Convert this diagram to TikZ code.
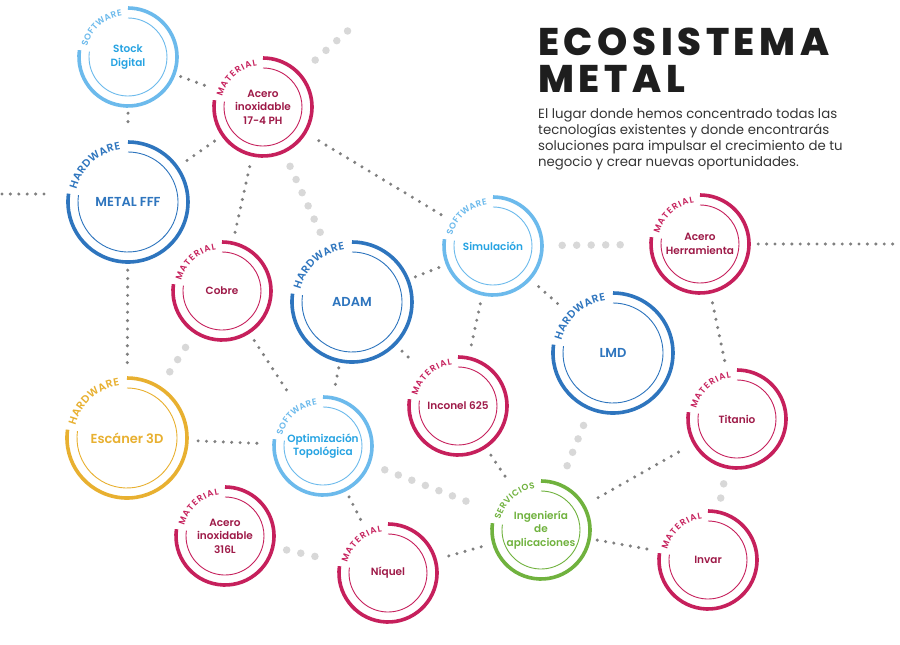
\documentclass[tikz,border=0pt]{standalone}
\usepackage{fontspec}
\setmainfont{Poppins}
\IfFontExistsTF{Poppins SemiBold}{\newfontfamily\labelfont{Poppins SemiBold}}{\newcommand\labelfont{\bfseries}}
\IfFontExistsTF{Poppins ExtraBold}{\newfontfamily\titlefont{Poppins ExtraBold}[LetterSpace=12]}{\newfontfamily\titlebase{Poppins}[LetterSpace=12]\newcommand\titlefont{\titlebase\bfseries}}
\usepackage{tikz}
\usetikzlibrary{decorations.text}
\usepackage{xcolor}
\definecolor{matred}{RGB}{198, 32, 92}
\definecolor{matdark}{RGB}{158, 26, 72}
\definecolor{hwblue}{RGB}{46, 117, 190}
\definecolor{swblue}{RGB}{108, 186, 236}
\definecolor{swtext}{RGB}{38, 163, 226}
\definecolor{scanyellow}{RGB}{232, 176, 48}
\definecolor{svgreen}{RGB}{112, 178, 62}
\definecolor{dotgray}{RGB}{128, 128, 128}
\definecolor{dotlight}{RGB}{216, 216, 216}
\definecolor{inkblack}{RGB}{30, 30, 30}

% ring with a gap at the upper left, tag written in the gap
\newcommand{\ecoring}[4]{%
  \pgfmathsetmacro\ecin{#2-10}%
  \pgfmathsetmacro\ectag{#2-7}%
  \pgfmathsetmacro\ecfs{#2*0.178}%
  \draw[#3, line width=3.6pt] (#1.center) ++(-188:#2pt)
    arc[start angle=-188, end angle=90, radius=#2pt];
  \draw[#3, line width=0.9pt] (#1.center) ++(-188:\ecin pt)
    arc[start angle=-188, end angle=90, radius=\ecin pt];
  \path[decorate, decoration={text along path, text align=fit to path,
      text={|\labelfont\fontsize{\ecfs}{\ecfs}\selectfont\color{#3}|#4}}]
    (#1.center) ++(166:\ectag pt) arc[start angle=166, end angle=98, radius=\ectag pt];
}

\begin{document}
\begin{tikzpicture}[
    x=1pt, y=1pt,
    eco/.style={
      circle, inner sep=0pt, minimum size=98pt, align=center,
      font=\labelfont\fontsize{10.5}{13.5}\selectfont
    },
    big/.style={eco, minimum size=120pt, font=\labelfont\fontsize{13}{15}\selectfont},
    mat/.style={eco, text=matdark},
    sw/.style={eco, text=swtext},
    sv/.style={eco, text=svgreen},
    hw/.style={big, text=hwblue},
    scan/.style={big, text=scanyellow},
    dk/.style={draw=dotgray, line width=3.4pt, line cap=round,
      dash pattern=on 0pt off 8.4pt, shorten <=10pt, shorten >=10pt},
    lt/.style={draw=dotlight, line width=7.5pt, line cap=round,
      dash pattern=on 0pt off 14.5pt, shorten <=17pt, shorten >=17pt},
    headline/.style={font=\titlefont\fontsize{38.5}{40}\selectfont, text=inkblack, inner sep=0pt},
    blurb/.style={font=\fontsize{13.3}{16}\selectfont, text=inkblack!90, align=left, inner sep=0pt},
]
    \fill[white] (0,0) rectangle (900,-645);
    \useasboundingbox (0,0) rectangle (900,-645);

    % Title
    \node[headline, anchor=base west] (eco) at (538,-55) {ECOSISTEMA};
    \node[headline, anchor=base west] (metal title) at (538,-92) {METAL};
    \node[blurb, anchor=north west] (intro) at (538,-108)
      {El lugar donde hemos concentrado todas las\\
       tecnologías existentes y donde encontrarás\\
       soluciones para impulsar el crecimiento de tu\\
       negocio y crear nuevas oportunidades.};

    % Circles
    \node[sw] (stock) at (128,-57) {Stock\\Digital};
    \node[mat] (a174) at (263,-107) {Acero\\inoxidable\\17-4 PH};
    \node[hw] (metal) at (128,-202) {METAL FFF};
    \node[mat] (cobre) at (222,-291) {Cobre};
    \node[hw] (adam) at (352,-302) {ADAM};
    \node[sw] (sim) at (493,-246) {Simulación};
    \node[mat] (herr) at (700,-244) {Acero\\Herramienta};
    \node[hw] (lmd) at (613,-353) {LMD};
    \node[mat] (titanio) at (737,-419) {Titanio};
    \node[mat] (inconel) at (458,-406) {Inconel 625};
    \node[scan] (escaner) at (127,-438) {Escáner 3D};
    \node[sw] (opt) at (323,-446) {Optimización\\Topológica};
    \node[sv] (ing) at (541,-530) {Ingeniería\\de\\aplicaciones};
    \node[mat] (a316) at (225,-536) {Acero\\inoxidable\\316L};
    \node[mat] (niquel) at (388,-573) {Níquel};
    \node[mat] (invar) at (708,-560) {Invar};

    \ecoring{stock}{49}{swblue}{SOFTWARE}
    \ecoring{a174}{49}{matred}{MATERIAL}
    \ecoring{metal}{60}{hwblue}{HARDWARE}
    \ecoring{cobre}{49}{matred}{MATERIAL}
    \ecoring{adam}{60}{hwblue}{HARDWARE}
    \ecoring{sim}{49}{swblue}{SOFTWARE}
    \ecoring{herr}{49}{matred}{MATERIAL}
    \ecoring{lmd}{60}{hwblue}{HARDWARE}
    \ecoring{titanio}{49}{matred}{MATERIAL}
    \ecoring{inconel}{49}{matred}{MATERIAL}
    \ecoring{escaner}{60}{scanyellow}{HARDWARE}
    \ecoring{opt}{49}{swblue}{SOFTWARE}
    \ecoring{ing}{49}{svgreen}{SERVICIOS}
    \ecoring{a316}{49}{matred}{MATERIAL}
    \ecoring{niquel}{49}{matred}{MATERIAL}
    \ecoring{invar}{49}{matred}{MATERIAL}

    % Loose ends
    \coordinate (leftend) at (0,-194);
    \coordinate (rightend) at (900,-244);
    \coordinate (topend) at (352,-27);

    % Dark links
    \draw[dk, shorten <=7pt] (stock) -- (a174);
    \draw[dk, shorten <=7pt, shorten >=12pt] (stock) -- (metal);
    \draw[dk, shorten <=12pt, shorten >=9pt] (metal) -- (a174);
    \draw[dk, shorten <=12pt, shorten >=8pt] (a174) -- (cobre);
    \draw[dk, shorten <=2pt, shorten >=16pt] (leftend) -- (leftend -| metal.west);
    \draw[dk, shorten <=8pt, shorten >=13pt] (metal) -- (escaner);
    \draw[dk, shorten >=12pt] (cobre) -- (opt);
    \draw[dk, shorten <=7pt, shorten >=8pt] (adam) -- (opt);
    \draw[dk, shorten >=13pt] (adam) -- (inconel);
    \draw[dk, shorten <=8pt, shorten >=5pt] (adam) -- (sim);
    \draw[dk, shorten <=16pt, shorten >=11pt] (a174) -- (sim);
    \draw[dk, shorten <=12pt, shorten >=13pt] (sim) -- (lmd);
    \draw[dk, shorten >=8pt] (sim) -- (inconel);
    \draw[dk, shorten <=9pt, shorten >=0pt] (herr) -- (rightend);
    \draw[dk, shorten <=11pt, shorten >=8pt] (herr) -- (titanio);
    \draw[dk, shorten <=18pt] (titanio) -- (ing);
    \draw[dk, shorten <=8pt] (ing) -- (invar);
    \draw[dk, shorten >=14pt] (inconel) -- (ing);
    \draw[dk, shorten <=14pt] (niquel) -- (ing);
    \draw[dk, shorten <=11pt, shorten >=13pt] (escaner) -- (opt);
    \draw[dk, shorten <=8pt] (opt) -- (niquel);

    % Light links
    \draw[lt, shorten <=21pt, shorten >=0pt] (a174) -- (topend);
    \draw[lt, shorten <=16pt, shorten >=16pt] (a174) -- (adam);
    \draw[lt, shorten <=18pt, shorten >=16pt] (cobre) -- (escaner);
    \draw[lt, shorten <=20pt, shorten >=20pt] (sim) -- (herr);
    \draw[lt, shorten <=18pt, shorten >=19pt] (lmd) -- (ing);
    \draw[lt, shorten >=14pt] (titanio) -- (invar);
    \draw[lt, shorten >=18pt] (opt) -- (ing);
    \draw[lt, shorten <=14pt, shorten >=13pt] (a316) -- (niquel);
\end{tikzpicture}
\end{document}
